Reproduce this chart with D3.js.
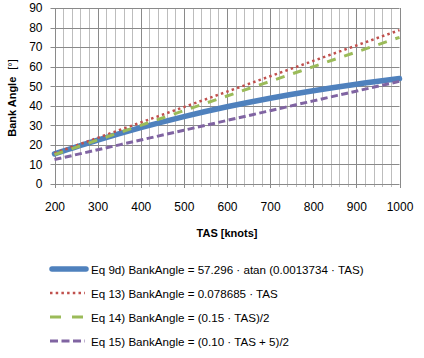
<!DOCTYPE html>
<html><head><meta charset="utf-8">
<script src="https://cdn.jsdelivr.net/npm/d3@7/dist/d3.min.js"></script>
<style>
html,body{margin:0;padding:0;background:#fff;}
svg{display:block;}
text{font-family:"Liberation Sans",Arial,sans-serif;fill:#000;}
</style></head>
<body>
<svg id="c" width="424" height="358"></svg>
<script>
// Data
const tas = [200, 300, 400, 500, 600, 700, 800, 900, 1000];
const eq9d = [15.36, 22.39, 28.78, 34.48, 39.49, 43.87, 47.69, 51.03, 53.94];
const eq13 = [15.74, 23.61, 31.47, 39.34, 47.21, 55.08, 62.95, 70.82, 78.69];
const eq14 = [15.0, 22.5, 30.0, 37.5, 45.0, 52.5, 60.0, 67.5, 75.0];
const eq15 = [12.5, 17.5, 22.5, 27.5, 32.5, 37.5, 42.5, 47.5, 52.5];
const xTicks = [200, 300, 400, 500, 600, 700, 800, 900, 1000];
const yTicks = [0, 10, 20, 30, 40, 50, 60, 70, 80, 90];
const seriesNames = [
  "Eq 9d) BankAngle = 57.296 \u00b7 atan (0.0013734 \u00b7 TAS)",
  "Eq 13) BankAngle = 0.078685 \u00b7 TAS",
  "Eq 14) BankAngle = (0.15 \u00b7 TAS)/2",
  "Eq 15) BankAngle = (0.10 \u00b7 TAS + 5)/2"
];
const xTitle = "TAS [knots]";
const yTitleBold = "Bank Angle";
const yTitleUnit = "[\u00b0]";

const svg = d3.select("#c");
const L = 54.5, R = 399.5, T = 8, B = 184;
const x = d3.scaleLinear().domain([200, 1000]).range([L, R]);
const y = d3.scaleLinear().domain([0, 90]).range([B, T]);

const g = svg.append("g");
// minor vertical grid every 20
const minor = d3.range(200, 1001, 20).filter(v => v % 100 !== 0);
g.selectAll(".minor").data(minor).enter().append("line")
  .attr("x1", d => Math.round(x(d)) + 0.5).attr("x2", d => Math.round(x(d)) + 0.5)
  .attr("y1", T).attr("y2", B + 3)
  .attr("stroke", "#bdbdbd").attr("stroke-width", 1);
// major vertical grid
g.selectAll(".major").data(xTicks).enter().append("line")
  .attr("x1", d => Math.round(x(d)) + 0.5).attr("x2", d => Math.round(x(d)) + 0.5)
  .attr("y1", T).attr("y2", B + 4)
  .attr("stroke", "#8a8a8a").attr("stroke-width", 1);
// horizontal grid
g.selectAll(".hg").data(yTicks).enter().append("line")
  .attr("x1", L - 4).attr("x2", R)
  .attr("y1", d => Math.round(y(d)) + 0.5).attr("y2", d => Math.round(y(d)) + 0.5)
  .attr("stroke", "#8a8a8a").attr("stroke-width", 1);

// axes labels via d3 axes
const xAxis = d3.axisBottom(x).tickValues(xTicks).tickSize(0).tickPadding(18).tickFormat(d3.format("d"));
const gx = svg.append("g").attr("transform", `translate(0,${B})`).call(xAxis);
gx.select(".domain").remove();
gx.selectAll("text").style("font-size", "12px").style("font-family", "Liberation Sans, Arial, sans-serif").attr("fill", "#000");

const yAxis = d3.axisLeft(y).tickValues(yTicks).tickSize(0).tickPadding(12).tickFormat(d3.format("d"));
const gy = svg.append("g").attr("transform", `translate(${L},0)`).call(yAxis);
gy.select(".domain").remove();
gy.selectAll("text").style("font-size", "12px").style("font-family", "Liberation Sans, Arial, sans-serif").attr("fill", "#000");

// titles
svg.append("text").attr("x", (L + R) / 2).attr("y", 237).attr("text-anchor", "middle")
  .style("font-size", "11px").style("font-weight", "bold").text(xTitle);
const yt = svg.append("text").attr("transform", `translate(16,${(T + B) / 2 + 2}) rotate(-90)`)
  .attr("text-anchor", "middle").style("font-size", "11px");
yt.append("tspan").style("font-weight", "bold").text(yTitleBold);
yt.append("tspan").attr("dx", 7).text(yTitleUnit);

// series
const styles = [
  {data: eq9d, color: "#4F81BD", width: 5.5, dash: null, cap: "round"},
  {data: eq13, color: "#C0504D", width: 2.5, dash: "2.5,3.2", cap: "butt"},
  {data: eq14, color: "#9BBB59", width: 3, dash: "9,9", cap: "butt"},
  {data: eq15, color: "#8064A2", width: 3, dash: "7,3.5", cap: "butt"}
];
const line = d3.line().x(d => x(d[0])).y(d => y(d[1])).curve(d3.curveMonotoneX);
const plot = svg.append("g");
styles.forEach(s => {
  plot.append("path").datum(tas.map((t, i) => [t, s.data[i]]))
    .attr("d", line).attr("fill", "none").attr("stroke", s.color)
    .attr("stroke-width", s.width).attr("stroke-dasharray", s.dash)
    .attr("stroke-linecap", s.cap).attr("stroke-linejoin", "round");
});

// legend
const legY = [269, 293, 317, 341];
const leg = svg.append("g");
const legDash = [null, "2.5,3.2", "11,11", "8,3.5"];
styles.forEach((s, i) => {
  leg.append("line").attr("x1", s.cap === "round" ? 52 : 50).attr("x2", s.cap === "round" ? 86 : 85)
    .attr("y1", legY[i]).attr("y2", legY[i])
    .attr("stroke", s.color).attr("stroke-width", i === 0 ? 5.5 : s.width)
    .attr("stroke-dasharray", legDash[i]).attr("stroke-linecap", s.cap);
  leg.append("text").attr("x", 91).attr("y", legY[i] + 4.5)
    .style("font-size", "11.6px").text(seriesNames[i]);
});
</script>
</body></html>
